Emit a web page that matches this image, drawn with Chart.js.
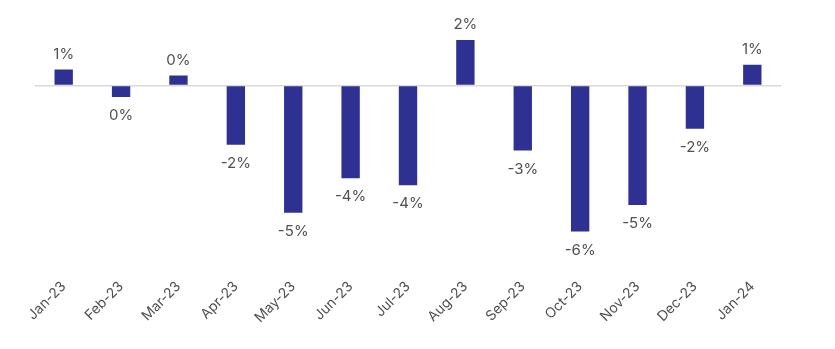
<!DOCTYPE html>
<html>
<head>
<meta charset="utf-8">
<script src="https://cdn.jsdelivr.net/npm/chart.js@4/dist/chart.umd.min.js"></script>
<style>
  html, body { margin: 0; padding: 0; background: #fff; }
  #wrap { width: 835px; height: 349px; }
</style>
</head>
<body>
<div id="wrap"><canvas id="chart"></canvas></div>
<script>
const months = ['Jan-23', 'Feb-23', 'Mar-23', 'Apr-23', 'May-23', 'Jun-23', 'Jul-23',
                'Aug-23', 'Sep-23', 'Oct-23', 'Nov-23', 'Dec-23', 'Jan-24'];
const changes = [0.64, -0.47, 0.4, -2.4, -5.16, -3.76, -4.04, 1.84, -2.64, -5.92, -4.84, -1.76, 0.84];

function pct(v) {
    let r = Math.round(v);
    if (r === 0) r = 0; // avoid "-0%"
    return r + '%';
}

// draws the value above / below each bar
const valueLabels = {
    id: 'valueLabels',
    afterDatasetsDraw(chart) {
        const ctx = chart.ctx;
        const meta = chart.getDatasetMeta(0);
        ctx.save();
        ctx.font = '15px Inter, sans-serif';
        ctx.fillStyle = '#505050';
        ctx.textAlign = 'center';
        ctx.textBaseline = 'alphabetic';
        meta.data.forEach((bar, i) => {
            const v = changes[i];
            if (v >= 0) {
                ctx.fillText(pct(v), bar.x, bar.y - 11);
            } else {
                ctx.fillText(pct(v), bar.x, bar.y + 23);
            }
        });
        ctx.restore();
    }
};

const ctx = document.getElementById('chart').getContext('2d');
const chart = new Chart(ctx, {
    type: 'bar',
    data: {
        labels: months,
        datasets: [{
            data: changes,
            backgroundColor: '#2E3192',
            barPercentage: 0.32,
            categoryPercentage: 1.0,
        }]
    },
    options: {
        responsive: true,
        maintainAspectRatio: false,
        animation: false,
        layout: { padding: { left: 35, right: 54, top: 36, bottom: 11 } },
        plugins: { legend: { display: false }, tooltip: { enabled: false } },
        scales: {
            x: {
                grid: { display: false },
                border: { display: false },
                ticks: {
                    color: '#505050',
                    font: { family: 'Inter, sans-serif', size: 14 },
                    minRotation: 45,
                    maxRotation: 45,
                    padding: 12,
                }
            },
            y: {
                min: -7,
                max: 2,
                border: { display: false },
                grid: {
                    drawTicks: false,
                    lineWidth: 1.5,
                    color: (c) => c.tick && c.tick.value === 0 ? '#d9d9d9' : 'rgba(0,0,0,0)',
                },
                ticks: { display: false, stepSize: 1 },
                afterFit(scale) { scale.width = 0; }
            }
        }
    },
    plugins: [valueLabels]
});
</script>
</body>
</html>
